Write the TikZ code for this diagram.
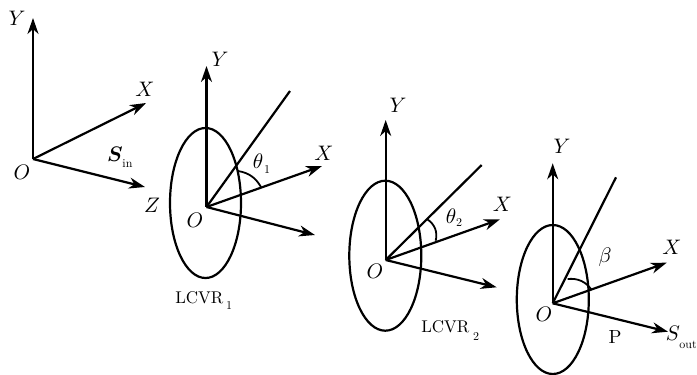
\documentclass[tikz,border=0pt]{standalone}
\usepackage{bm}
\usetikzlibrary{arrows.meta,shapes.geometric}
\tikzset{
  axis/.style={line width=2.2pt,draw=black,-{Stealth[length=16pt,width=11pt,inset=5pt]}},
  ray/.style={line width=2.2pt,draw=black},
  disc/.style={line width=2.2pt,draw=black},
  ang/.style={line width=1.8pt,draw=black},
  mlab/.style={inner sep=0pt,scale=2.1},
  rlab/.style={inner sep=0pt,scale=1.7},
  sublab/.style={inner sep=0pt,scale=1.2},
}
\begin{document}
\begin{tikzpicture}[x=1pt,y=-1pt]
\useasboundingbox (0,0) rectangle (697,375);
% frame 1
\coordinate (o1) at (33,159); \coordinate (y1) at (33,18); \coordinate (x1) at (146,103); \coordinate (z1) at (145,187);
\draw[axis] (o1) -- (y1); \draw[axis] (o1) -- (x1); \draw[axis] (o1) -- (z1);
\node[mlab] (ly1) at (17,18) {$Y$};
\node[mlab] (lx1) at (145,89) {$X$};
\node[mlab] (lo1) at (22,172) {$O$};
\node[mlab] (lz1) at (152,205) {$Z$};
\node[mlab] (ls1) at (115,154) {$\bm{S}$};
\node[sublab] (ls1b) at (127.5,164) {in};
% frame 2
\coordinate (o2) at (206.5,207); \coordinate (y2) at (206.5,66); \coordinate (x2) at (322,166); \coordinate (z2) at (315,235); \coordinate (r2) at (290,91);
\node[disc,draw,ellipse,minimum width=71pt,minimum height=150pt,inner sep=0pt] (e2) at (205.5,203) {};
\draw[axis] (o2) -- (y2); \draw[axis] (o2) -- (x2); \draw[axis] (o2) -- (z2); \draw[ray] (o2) -- (r2);
\coordinate (a2s) at (238,171); \coordinate (a2e) at (261,187);
\draw[ang] (a2s) to[bend left=25] (a2e);
\node[mlab] (ly2) at (220,59) {$Y$};
\node[mlab] (lx2) at (324,153) {$X$};
\node[mlab] (lo2) at (195,220) {$O$};
\node[mlab] (lt2) at (258,161) {$\theta$};
\node[sublab] (lt2b) at (267,170) {1};
\node[rlab,anchor=west] (ll2) at (175,297.5) {LCVR};
\node[sublab] (ll2b) at (229,306) {1};
% frame 3
\coordinate (o3) at (385.7,260); \coordinate (y3) at (385.7,120); \coordinate (x3) at (500,219.3); \coordinate (z3) at (496.7,287.3); \coordinate (r3) at (481.7,165);
\node[disc,draw,ellipse,minimum width=72pt,minimum height=150pt,inner sep=0pt] (e3) at (385.3,255.7) {};
\draw[axis] (o3) -- (y3); \draw[axis] (o3) -- (x3); \draw[axis] (o3) -- (z3); \draw[ray] (o3) -- (r3);
\coordinate (a3s) at (427.3,219.3); \coordinate (a3e) at (435.7,240.7);
\draw[ang] (a3s) to[bend left=35] (a3e);
\node[mlab] (ly3) at (398,105) {$Y$};
\node[mlab] (lx3) at (502.5,204) {$X$};
\node[mlab] (lo3) at (375,271) {$O$};
\node[mlab] (lt3) at (451,216) {$\theta$};
\node[sublab] (lt3b) at (459,223) {2};
\node[rlab,anchor=west] (ll3) at (421,327) {LCVR};
\node[sublab] (ll3b) at (476,337) {2};
% frame 4
\coordinate (o4) at (552.7,303.3); \coordinate (y4) at (552.7,163.3); \coordinate (x4) at (666.7,262.7); \coordinate (z4) at (668,331.7); \coordinate (r4) at (616,177.3);
\node[disc,draw,ellipse,minimum width=72pt,minimum height=149pt,inner sep=0pt] (e4) at (552.8,299.5) {};
\draw[axis] (o4) -- (y4); \draw[axis] (o4) -- (x4); \draw[axis] (o4) -- (z4); \draw[ray] (o4) -- (r4);
\coordinate (a4s) at (567.7,279); \coordinate (a4e) at (591.7,290);
\draw[ang] (a4s) to[bend left=30] (a4e);
\node[mlab] (ly4) at (562,146) {$Y$};
\node[mlab] (lx4) at (672,247) {$X$};
\node[mlab] (lo4) at (544,314.5) {$O$};
\node[mlab] (lb4) at (605,257) {$\beta$};
\node[inner sep=0pt,scale=1.9] (lp4) at (615,337) {P};
\node[mlab] (ls4) at (673,333) {$S$};
\node[sublab] (ls4b) at (688,345) {out};
\end{tikzpicture}
\end{document}
